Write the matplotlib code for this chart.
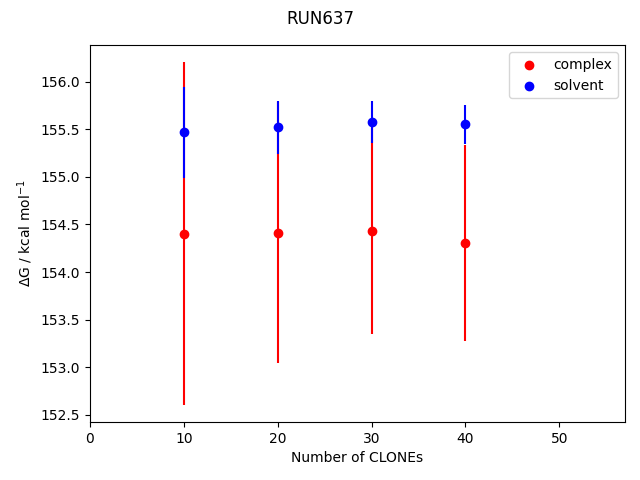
import matplotlib
matplotlib.use('Agg')
import matplotlib.pyplot as plt

# clones per point and free energies (kcal/mol)
n_clones = [10, 20, 30, 40]
complex_dg = [154.405, 154.415, 154.435, 154.31]
complex_err = [1.80, 1.375, 1.085, 1.03]
solvent_dg = [155.47, 155.52, 155.575, 155.555]
solvent_err = [0.48, 0.28, 0.22, 0.205]

fig, ax = plt.subplots(figsize=(6.4, 4.8), dpi=100)
fig.suptitle('RUN637')

ax.errorbar(n_clones, complex_dg, yerr=complex_err, fmt='none', ecolor='red')
ax.scatter(n_clones, complex_dg, color='red', label='complex')
ax.errorbar(n_clones, solvent_dg, yerr=solvent_err, fmt='none', ecolor='blue')
ax.scatter(n_clones, solvent_dg, color='blue', label='solvent')

ax.set_xlim(0, 57)
ax.set_xlabel('Number of CLONEs')
ax.set_ylabel(r'$\Delta$G / kcal mol$^{-1}$')
ax.legend(loc='upper right')

fig.subplots_adjust(left=0.1406, right=0.9766, top=0.906, bottom=0.121)
fig.savefig('out.png')
